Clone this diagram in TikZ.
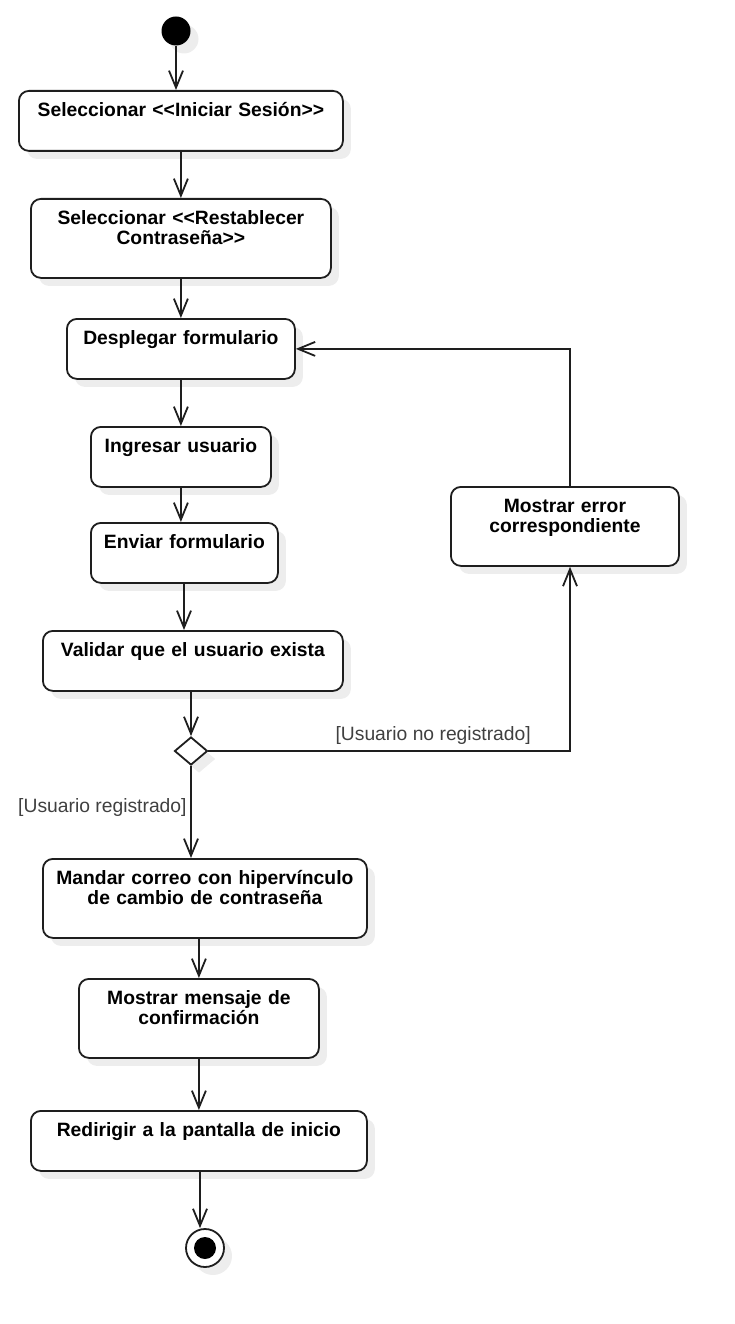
\documentclass[tikz,border=0pt]{standalone}
\usepackage{fontspec}
\setmainfont{Liberation Sans}[Ligatures=TeXOff]
\usetikzlibrary{arrows.meta,shapes.geometric,calc}
\definecolor{ln}{HTML}{1E1E1E}
\definecolor{lbl}{HTML}{404040}
\definecolor{shc}{HTML}{EDEDED}
\tikzset{
 shd/.style={preaction={draw=none, fill=shc, transform canvas={shift={(8pt,-8pt)}}}},
 actbox/.style={draw=ln, line width=1.8pt, rounded corners=10pt, fill=white, shd, inner sep=0, anchor=north west},
 acttxt/.style={font=\bfseries\fontsize{19.3}{20}\selectfont, anchor=base, align=center, inner sep=0},
 arr/.style={draw=ln, line width=1.8pt, -{Straight Barb[length=17pt,width=14pt]}},
 guard/.style={font=\fontsize{19.3}{20}\selectfont, text=lbl, inner sep=0},
}
\newcommand\actnode[6]{%
 \pgfmathsetmacro\actw{#4-#2}\pgfmathsetmacro\acth{#5-#3}\pgfmathsetmacro\acttw{#4-#2-4}%
 \node[actbox, minimum width=\actw pt, minimum height=\acth pt] (#1) at (#2,#3) {};
 \node[acttxt, text width=\acttw pt] (#1t) at ($(#1.north)+(0,26.5)$) {#6};}
\begin{document}
\begin{tikzpicture}[x=1pt,y=-1pt]
\useasboundingbox (0,0) rectangle (735,1324);
\node[circle, fill=black, minimum size=29pt, inner sep=0, shd] (start) at (176,31) {};
\actnode{b1}{18}{90}{342}{150}{Seleccionar <<Iniciar Sesión>>}
\actnode{b2}{30}{198}{330}{277}{Seleccionar <<Restablecer\\Contraseña>>}
\actnode{b3}{66}{318}{294}{378}{Desplegar formulario}
\actnode{b4}{90}{426}{270}{486}{Ingresar usuario}
\actnode{b5}{90}{522}{277}{582}{Enviar formulario}
\actnode{b6}{42}{630}{342}{690}{Validar que el usuario exista}
\actnode{b7}{450}{486}{678}{565}{Mostrar error\\correspondiente}
\actnode{b8}{42}{858}{366}{937}{Mandar correo con hipervínculo\\de cambio de contraseña}
\actnode{b9}{78}{978}{318}{1057}{Mostrar mensaje de\\confirmación}
\actnode{b10}{30}{1110}{366}{1170}{Redirigir a la pantalla de inicio}
\node[diamond, draw=ln, line width=1.8pt, fill=white, minimum width=33pt, minimum height=28pt, inner sep=0, shd] (dec) at (191,751) {};
\node[circle, draw=ln, line width=1.8pt, fill=white, minimum size=38pt, inner sep=0, shd] (end) at (205,1248) {};
\node[circle, fill=black, minimum size=22pt, inner sep=0] (endin) at (end) {};
\coordinate (c1) at (570,751);
\coordinate (c2) at (200,0);
\coordinate (c3) at (184,0);
\draw[arr] (start) -- (start |- b1.north);
\draw[arr] (b1.south) -- (b2.north);
\draw[arr] (b2.south) -- (b3.north);
\draw[arr] (b3.south) -- (b4.north);
\draw[arr] (b4.south) -- (b4.south |- b5.north);
\draw[arr] (b5.south -| c3) -- (c3 |- b6.north);
\draw[arr] (b6.south -| dec) -- (dec.north);
\draw[arr] (dec.east) -- (c1) -- (c1 |- b7.south);
\node[guard, anchor=base east] (g1) at (531,740) {[Usuario no registrado]};
\draw[arr] (b7.north -| c1) |- (b3.east);
\draw[arr] (dec.south) -- (dec.south |- b8.north);
\node[guard, anchor=base west] (g2) at (18,812) {[Usuario registrado]};
\draw[arr] (b8.south -| b9.north) -- (b9.north);
\draw[arr] (b9.south) -- (b10.north);
\draw[arr] (b10.south -| c2) -- (c2 |- end.north);
\end{tikzpicture}
\end{document}
